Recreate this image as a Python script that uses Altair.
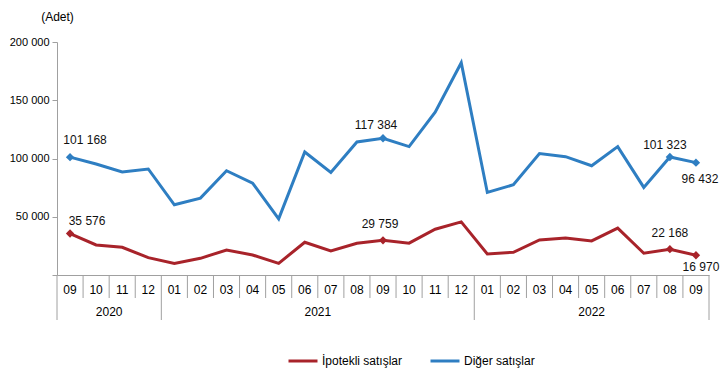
import altair as alt
import pandas as pd

months = ["09", "10", "11", "12",
          "01", "02", "03", "04", "05", "06", "07", "08", "09", "10", "11", "12",
          "01", "02", "03", "04", "05", "06", "07", "08", "09"]
years = ["2020"] * 4 + ["2021"] * 12 + ["2022"] * 9

ipotekli = [35576, 25800, 23800, 14900,
            10000, 14300, 21500, 17200, 10000, 28100, 20700, 27300, 29759, 27300, 39300, 45600,
            18100, 19500, 30100, 31800, 29300, 40200, 18700, 22168, 16970]
diger = [101168, 95300, 88400, 91000,
         60250, 66000, 89500, 78900, 48200, 105600, 88100, 114200, 117384, 110200, 139700, 182200,
         70850, 77500, 104200, 101600, 93800, 110200, 75200, 101323, 96432]

series_names = ["İpotekli satışlar", "Diğer satışlar"]
colors = ["#A8232A", "#2E7EC2"]

# labelled points: (series, index)
labelled = [("Diğer satışlar", 0), ("İpotekli satışlar", 0),
            ("Diğer satışlar", 12), ("İpotekli satışlar", 12),
            ("Diğer satışlar", 23), ("İpotekli satışlar", 23),
            ("Diğer satışlar", 24), ("İpotekli satışlar", 24)]
# label offsets (layout only)
offsets = [(15, -17), (17, -13), (-7, -13), (-3, -16),
           (-5, -12), (0, -16), (4, 16), (5, 12)]

FONT = "Liberation Sans"
W, H = 652, 233
GRAY = "#A0A0A0"

rows = []
for i in range(len(months)):
    rows.append({"idx": i, "series": series_names[0], "value": ipotekli[i]})
    rows.append({"idx": i, "series": series_names[1], "value": diger[i]})
df = pd.DataFrame(rows)

def fmt(v):
    return f"{v:,}".replace(",", " ")

xscale = alt.Scale(domain=[-0.5, len(months) - 0.5], nice=False, zero=False)
x = alt.X("idx:Q", scale=xscale, title=None)
yscale = alt.Scale(domain=[0, 200000], nice=False)

color = alt.Color(
    "series:N",
    scale=alt.Scale(domain=series_names, range=colors),
    legend=alt.Legend(
        title=None, orient="none", legendX=230, legendY=303, direction="horizontal",
        symbolType="stroke", symbolSize=841, symbolStrokeWidth=3,
        labelFont=FONT, labelFontSize=12, labelColor="#000000",
        labelOffset=3, columnPadding=21,
    ),
)

lines = alt.Chart(df).mark_line(strokeWidth=3).encode(
    x=x,
    y=alt.Y("value:Q", scale=yscale, title="(Adet)"),
    color=color,
)

layers = [lines]

for (s, i), (dx, dy) in zip(labelled, offsets):
    v = ipotekli[i] if s == series_names[0] else diger[i]
    c = colors[series_names.index(s)]
    pdf = pd.DataFrame({"idx": [i], "value": [v], "lab": [fmt(v)]})
    layers.append(alt.Chart(pdf).mark_point(shape="diamond", filled=True, size=70, color=c, opacity=1).encode(
        x=x, y=alt.Y("value:Q", scale=yscale)))
    layers.append(alt.Chart(pdf).mark_text(font=FONT, fontSize=12, color="#111111", dx=dx, dy=dy).encode(
        x=x, y=alt.Y("value:Q", scale=yscale), text="lab:N"))

mdf = pd.DataFrame({"idx": list(range(len(months))), "lab": months})
layers.append(alt.Chart(mdf).mark_text(font=FONT, fontSize=12, color="#000000", baseline="middle").encode(
    x=x, y=alt.value(H + 15), text="lab:N"))

sdf = pd.DataFrame({"idx": [i - 0.5 for i in range(len(months) + 1)]})
layers.append(alt.Chart(sdf).mark_rule(color=GRAY, strokeWidth=1).encode(
    x=x, y=alt.value(H), y2=alt.value(H + 23)))

# year boundaries and centres
ylist = []
for i, yv in enumerate(years):
    if i == 0 or years[i - 1] != yv:
        ylist.append([yv, i, i])
    else:
        ylist[-1][2] = i
bdf = pd.DataFrame({"idx": [g[1] - 0.5 for g in ylist] + [len(months) - 0.5]})
layers.append(alt.Chart(bdf).mark_rule(color=GRAY, strokeWidth=1).encode(
    x=x, y=alt.value(H + 23), y2=alt.value(H + 45)))
ydf = pd.DataFrame({"idx": [(g[1] + g[2]) / 2 for g in ylist], "lab": [g[0] for g in ylist]})
layers.append(alt.Chart(ydf).mark_text(font=FONT, fontSize=12, color="#000000", baseline="middle").encode(
    x=x, y=alt.value(H + 37), text="lab:N"))

chart = alt.layer(*layers).properties(
    width=W, height=H,
    autosize=alt.AutoSizeParams(type="none"),
    padding={"left": 49, "top": 34, "right": 11, "bottom": 105},
).configure_view(stroke=None).configure_axisX(
    labels=False, ticks=False, grid=False, title=None,
    domainColor=GRAY, domainWidth=1,
).configure_axisY(
    values=[0, 50000, 100000, 150000, 200000],
    labelExpr="datum.value == 0 ? '' : replace(format(datum.value, ','), ',', ' ')",
    grid=False, tickSize=5, tickColor=GRAY, domainColor=GRAY, domainWidth=1,
    labelFont=FONT, labelFontSize=11, labelColor="#000000", labelPadding=3,
    titleFont=FONT, titleFontSize=12, titleFontWeight="normal", titleColor="#000000",
    titleAngle=0, titleX=0, titleY=-26, titleAlign="center", titleBaseline="middle",
)

chart.save("out.html", embed_options={"renderer": "svg", "actions": False})
